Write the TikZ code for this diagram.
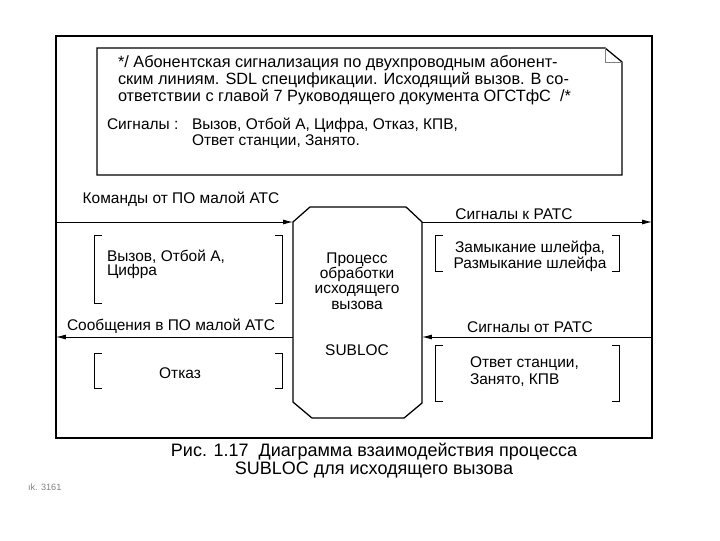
\documentclass[tikz,border=0pt]{standalone}
\usepackage{fontspec}
\setmainfont{Liberation Sans}
\usetikzlibrary{positioning}
\usetikzlibrary{arrows.meta}
\usetikzlibrary{calc}

\begin{document}
\begin{tikzpicture}[x=0.025cm, y=-0.025cm,
				every node/.style={inner sep=0pt, outer sep=0pt,
						font=\fontsize{11}{11.5}\selectfont},
				frame/.style={rectangle, draw, line width=0.9pt,
						minimum width=14.9cm, minimum height=10.05cm},
				note/.style={rectangle, minimum width=13.125cm, minimum height=3.175cm},
				procbox/.style={rectangle, minimum width=3.225cm, minimum height=5.275cm},
				sigarrow/.style={draw, line width=0.6pt, -{Latex[length=7pt, width=3.5pt]}},
				sigset/.style={rectangle, minimum width=0.1cm, minimum height=0.1cm},
				brk/.style={line width=0.7pt}
			]
			\useasboundingbox (0,0) rectangle (720,540);

			% outer frame and comment box
			\node[frame] (frame) at (354,237) {};
			\node[note] (comment) at (359.5,111.5) {};
			\draw[line width=0.9pt] (comment.north west) -- ($(comment.north east)+(-17,0)$)
				-- ($(comment.north east)+(0,14)$) -- (comment.south east)
				-- (comment.south west) -- cycle;
			\draw[line width=0.3pt, gray] ($(comment.north east)+(-17,0)$) |- ($(comment.north east)+(0,14)$);

			\node[anchor=north west, align=left, font=\fontsize{11.6}{12}\selectfont] (remark) at (118,55.5)
				{*/ Абонентская сигнализация по двухпроводным абонент-\\
				ским линиям. SDL спецификации. Исходящий вызов. В со-\\
				ответствии с главой 7 Руководящего документа ОГСТфС~~/*};
			\node[anchor=west] (siglist) at (107,124) {Сигналы :};
			\node[anchor=north west, align=left] (sigvals) at (192,118)
				{Вызов, Отбой А, Цифра, Отказ, КПВ,\\ Ответ станции, Занято.};

			% Process SUBLOC (octagon)
			\node[procbox] (proc) at (357.5,312.5) {};
			\draw[line width=0.9pt] ($(proc.north west)+(17,0)$) -- ($(proc.north east)+(-16,0)$)
				-- ($(proc.north east)+(0,15)$) -- ($(proc.south east)+(0,-15)$)
				-- ($(proc.south east)+(-18,0)$) -- ($(proc.south west)+(19,0)$)
				-- ($(proc.south west)+(0,-16)$) -- ($(proc.north west)+(0,15)$) -- cycle;
			\node[align=center, font=\fontsize{11}{10.8}\selectfont] (procname) at (357,281)
				{Процесс\\обработки\\исходящего\\вызова};
			\node (procid) at (357,350) {SUBLOC};

			% Signal routes
			\coordinate (inL) at (56,222);
			\coordinate (inR) at (652,222);
			\coordinate (outL) at (56,337);
			\coordinate (outR) at (652,337);

			\draw[sigarrow] (inL) -- (inL -| proc.west);
			\draw[sigarrow] (inR -| proc.east) -- (inR);
			\draw[sigarrow] (outL -| proc.west) -- (outL);
			\draw[sigarrow] (outR) -- (outR -| proc.east);

			\node (cmd) at (181,199) {Команды от ПО малой АТС};
			\node (toratc) at (514,214) {Сигналы к РАТС};
			\node (msg) at (171,326) {Сообщения в ПО малой АТС};
			\node (fromratc) at (530,327) {Сигналы от РАТС};

			% Signal sets in brackets
			\node[sigset, minimum width=4.675cm, minimum height=1.7cm] (setA) at (188.5,269) {};
			\node[sigset, minimum width=4.575cm, minimum height=0.9cm] (setB) at (527.5,253) {};
			\node[sigset, minimum width=4.675cm, minimum height=0.875cm] (setC) at (188.5,370.5) {};
			\node[sigset, minimum width=4.575cm, minimum height=1.4cm] (setD) at (527.5,373) {};

			\foreach \s in {setA, setB, setC, setD} {
				\draw[brk] ($(\s.north west)+(7,0)$) -- (\s.north west) -- (\s.south west) -- ++(7,0);
				\draw[brk] ($(\s.north east)+(-7,0)$) -- (\s.north east) -- (\s.south east) -- ++(-7,0);
			}

			\node[anchor=west, align=left, font=\fontsize{11}{9.5}\selectfont] (setAtext) at (107,264.5)
				{Вызов, Отбой А,\\Цифра};
			\node[align=center, font=\fontsize{11}{8.8}\selectfont] (setBtext) at (530,256)
				{Замыкание шлейфа,\\Размыкание шлейфа};
			\node (setCtext) at (180,373) {Отказ};
			\node[anchor=west, align=left, font=\fontsize{11}{12}\selectfont] (setDtext) at (470,371.5)
				{Ответ станции,\\Занято, КПВ};

			% Caption
			\node[align=center, font=\fontsize{12.8}{12.8}\selectfont] (caption) at (374,461)
				{Рис. 1.17~~Диаграмма взаимодействия процесса\\SUBLOC для исходящего вызова};
			\node[anchor=west, font=\fontsize{6.5}{7}\selectfont, text=gray] (pageref) at (28,487) {ık. 3161};

		\end{tikzpicture}
\end{document}
